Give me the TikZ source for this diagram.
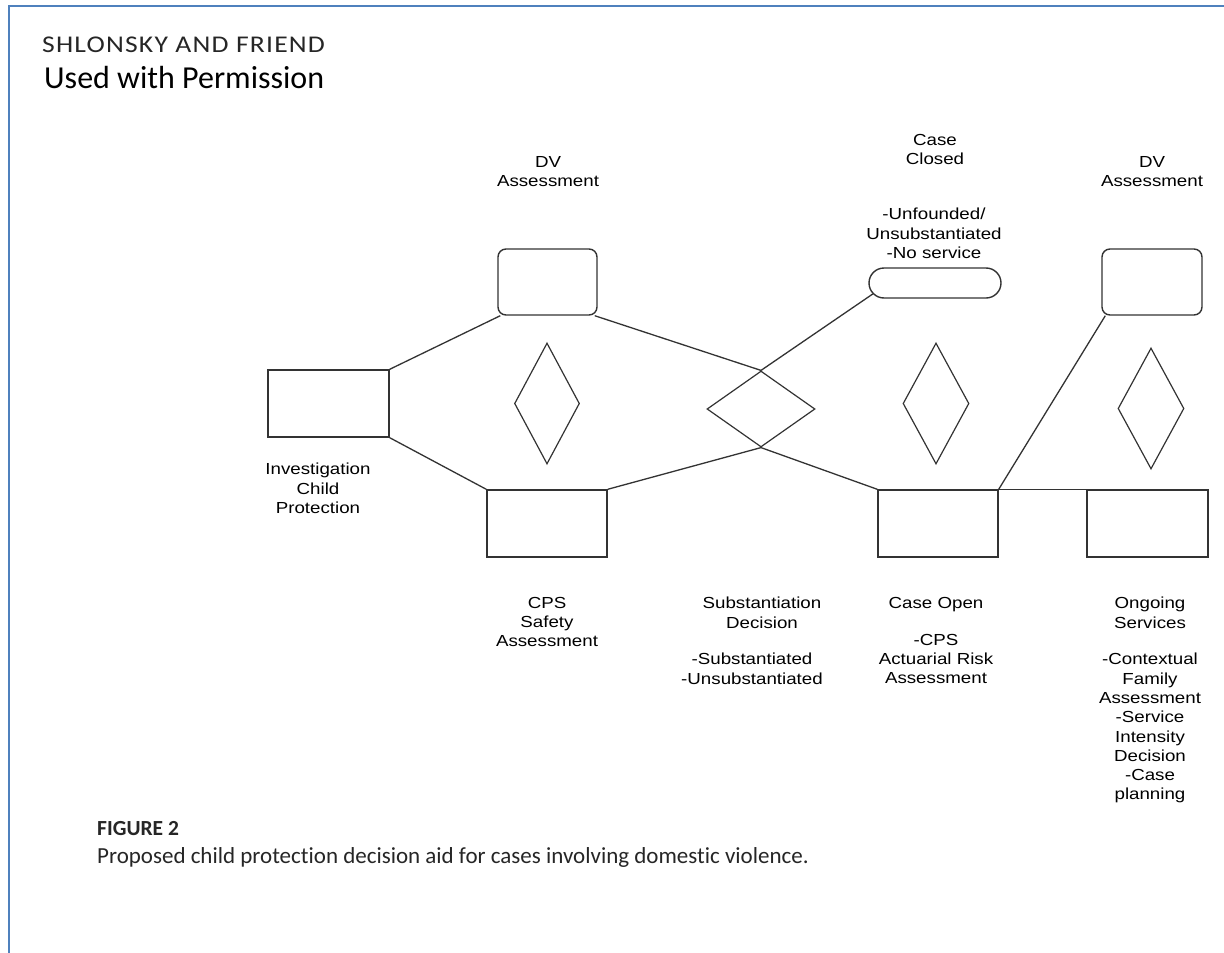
\documentclass[tikz,border=0pt]{standalone}
\usepackage{fontspec}
\setmainfont{Liberation Sans}
\newfontfamily\diagfont[FakeStretch=1.17]{Liberation Sans}
\newfontfamily\capfont[Ligatures=NoCommon]{Carlito}
\newfontfamily\headfont[FakeStretch=1.15,LetterSpace=5]{Carlito}
\usetikzlibrary{shapes.geometric,shapes.misc}
\definecolor{linec}{HTML}{333333}
\definecolor{framec}{HTML}{4F81BD}
\definecolor{headc}{HTML}{262626}
\tikzset{
  lab/.style={font=\diagfont\fontsize{16}{19.3}\selectfont, align=center, inner sep=0pt, anchor=north, text=black},
  plainbox/.style={draw=linec, line width=1.4pt, rectangle, inner sep=0pt},
  roundbox/.style={draw=linec, line width=1.4pt, rectangle, rounded corners=8pt, inner sep=0pt},
  capsule/.style={draw=linec, line width=1.4pt, rounded rectangle, inner sep=0pt},
  dia/.style={draw=linec, line width=1.2pt, diamond, inner sep=0pt},
  conn/.style={draw=linec, line width=1.3pt}
}
\begin{document}
\begin{tikzpicture}[x=1pt,y=-1pt]
\useasboundingbox (0,0) rectangle (1224,953);
\fill[white] (0,0) rectangle (1224,953);
% frame
\draw[framec, line width=2.5pt] (9,953) -- (9,6) -- (1224,6);
% header
\node[anchor=base west, inner sep=0pt, text=headc, font=\headfont\fontsize{24}{28}\selectfont] (hdr) at (42,52) {SHLONSKY AND FRIEND};
\node[anchor=base west, inner sep=0pt, text=black, font=\capfont\fontsize{32}{38}\selectfont] (perm) at (44,88) {Used with Permission};
% boxes
\node[plainbox, minimum width=121pt, minimum height=67pt] (inv) at (328.5,403.5) {};
\node[roundbox, minimum width=99pt, minimum height=66pt] (dv1) at (547.5,282) {};
\node[plainbox, minimum width=120pt, minimum height=67pt] (cps) at (547,523.5) {};
\node[plainbox, minimum width=120pt, minimum height=67pt] (open) at (938,523.5) {};
\node[plainbox, minimum width=121pt, minimum height=67pt] (ong) at (1147.5,523.5) {};
\node[roundbox, minimum width=100pt, minimum height=66pt] (dv2) at (1152,282) {};
\node[capsule, minimum width=132pt, minimum height=30pt] (cap) at (935,283) {};
% diamonds
\node[dia, minimum width=65pt, minimum height=121pt] (d1) at (547,403.5) {};
\node[dia, minimum width=108pt, minimum height=76pt] (d2) at (761,409) {};
\node[dia, minimum width=66pt, minimum height=121pt] (d3) at (936,403.5) {};
\node[dia, minimum width=66pt, minimum height=121pt] (d4) at (1151,408.5) {};
% connectors
\draw[conn] (inv.north east) -- ([xshift=3pt]dv1.south west);
\draw[conn] (inv.south east) -- (cps.north west);
\draw[conn] ([xshift=-3pt]dv1.south east) -- (d2.north);
\draw[conn] (cap.190) -- (d2.north);
\draw[conn] (cps.north east) -- (d2.south);
\draw[conn] (d2.south) -- (open.north west);
\draw[conn] (open.north east) -- ([xshift=4pt]dv2.south west);
\draw[conn] (open.north east) -- (ong.north west);
% labels
\node[lab] (tdv1) at (548,156) {DV\\Assessment};
\node[lab] (tcc) at (935,134) {Case\\Closed};
\node[lab] (tcc2) at (934,208) {-Unfounded/\\Unsubstantiated\\-No service};
\node[lab] (tdv2) at (1152,156) {DV\\Assessment};
\node[lab] (tinv) at (318,463) {Investigation\\Child\\Protection};
\node[lab] (tcps) at (547,597) {CPS\\Safety\\Assessment};
\node[lab] (tsub) at (762,597) {Substantiation\\Decision};
\node[lab] (tsub2) at (752,653) {-Substantiated\\-Unsubstantiated};
\node[lab] (topen) at (936,597) {Case Open};
\node[lab] (topen2) at (936,634) {-CPS\\Actuarial Risk\\Assessment};
\node[lab] (tong) at (1150,597) {Ongoing\\Services};
\node[lab] (tong2) at (1150,653) {-Contextual\\Family\\Assessment\\-Service\\Intensity\\Decision\\-Case\\planning};
% caption
\node[anchor=base west, inner sep=0pt, text=headc, font=\capfont\bfseries\fontsize{21.5}{26}\selectfont] (fig) at (97,835) {FIGURE 2};
\node[anchor=base west, inner sep=0pt, text=headc, font=\capfont\fontsize{23}{27}\selectfont] (capt) at (97,863) {Proposed child protection decision aid for cases involving domestic violence.};
\end{tikzpicture}
\end{document}
